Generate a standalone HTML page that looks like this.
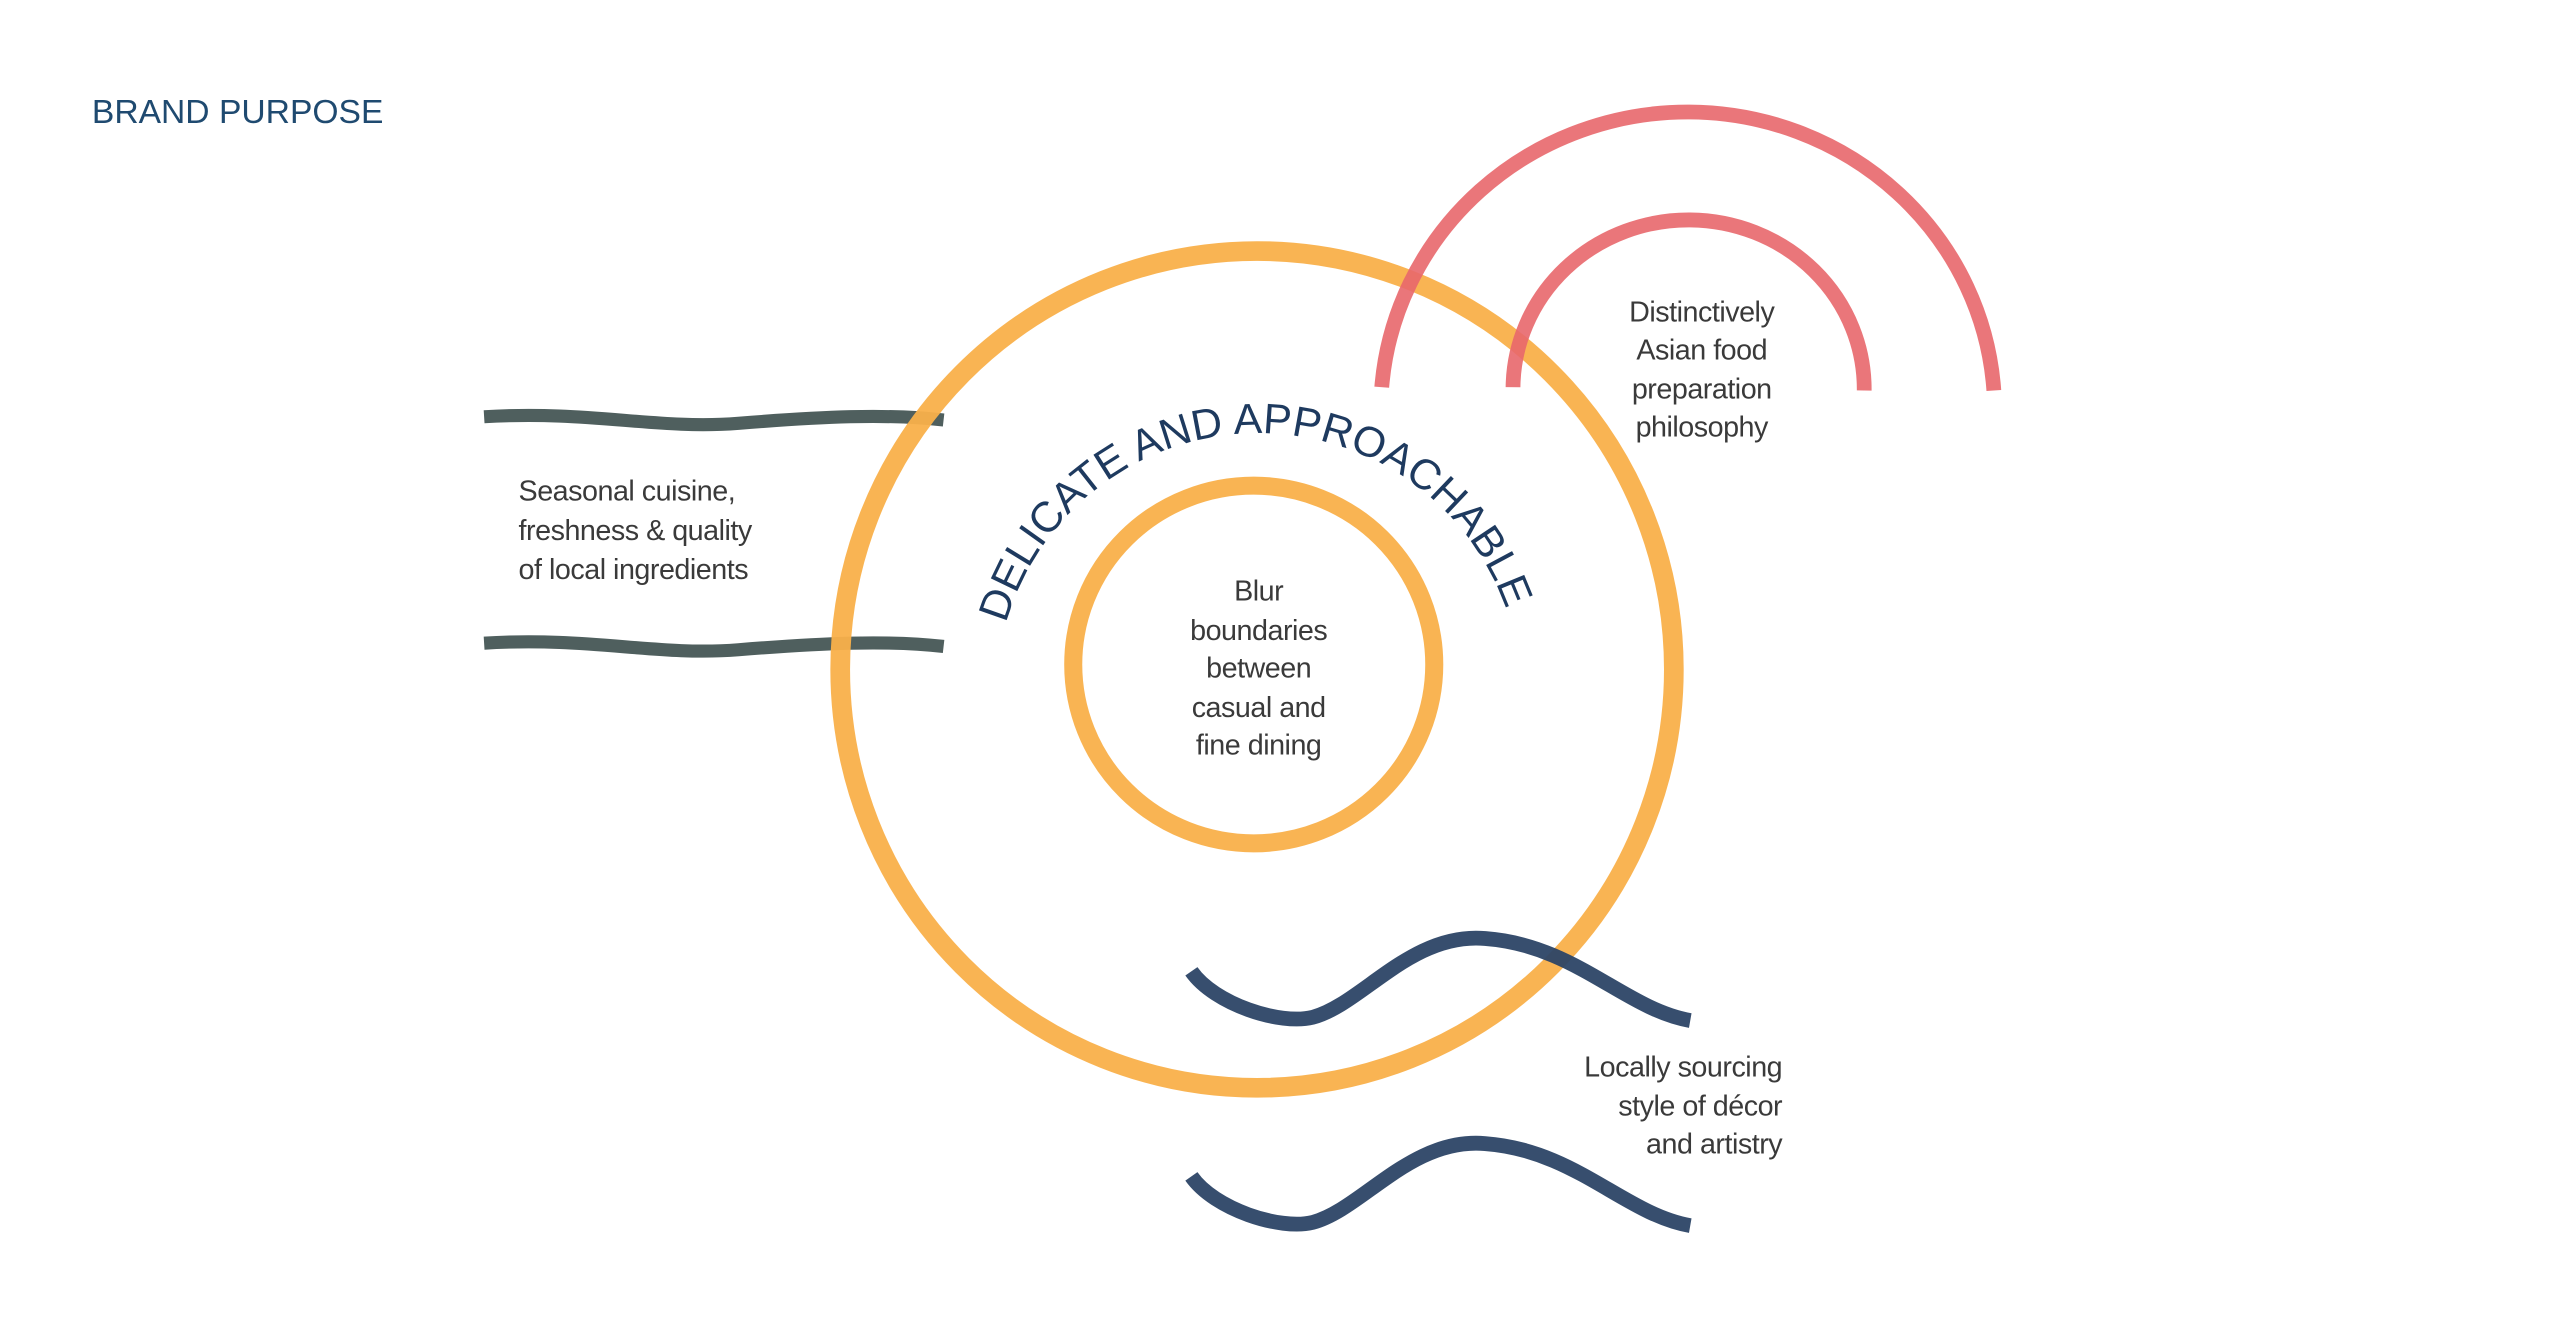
<!DOCTYPE html>
<html><head><meta charset="utf-8"><style>
html,body{margin:0;padding:0;background:#fff;}
svg{display:block;}
text{font-family:"Liberation Sans",sans-serif;}
</style></head><body>
<svg width="2560" height="1329" viewBox="0 0 1560 810" preserveAspectRatio="none" xmlns="http://www.w3.org/2000/svg">
<rect width="1560" height="810" fill="#fff"/>
<text x="56" y="75" font-size="20.5" fill="#1f4a70">BRAND PURPOSE</text>

<path d="M295 254 C360 250 400 262 450 258 C500 254 540 252 575 256" fill="none" stroke="#4f5f5e" stroke-width="8"/>
<path d="M295 392 C360 388 400 400 450 396 C500 392 540 390 575 394" fill="none" stroke="#4f5f5e" stroke-width="8"/>

<ellipse cx="766" cy="408" rx="254" ry="255" fill="none" stroke="#f9b04a" stroke-width="12" opacity="0.95"/>
<ellipse cx="764" cy="405" rx="110" ry="109" fill="none" stroke="#f9b04a" stroke-width="11" opacity="0.95"/>

<path d="M842 236 A187 182 0 0 1 1215 238" fill="none" stroke="#e8676b" stroke-width="9" opacity="0.9"/>
<path d="M922 236 A107 103 0 0 1 1136 238" fill="none" stroke="#e8676b" stroke-width="9" opacity="0.9"/>

<path d="M726 592 C740 612 780 625 800 620 C830 612 860 568 905 572 C960 576 990 615 1030 622" fill="none" stroke="#2c4466" stroke-width="9" opacity="0.95"/>
<path d="M726 717 C740 737 780 750 800 745 C830 737 860 693 905 697 C960 701 990 740 1030 747" fill="none" stroke="#2c4466" stroke-width="9" opacity="0.95"/>

<defs><path id="arc" d="M613 380 A160 160 0 0 1 925 400"/></defs>
<text font-size="26" fill="#1e3a5f" letter-spacing="0"><textPath href="#arc">DELICATE AND APPROACHABLE</textPath></text>

<g font-size="17.5" fill="#3a3a3a" letter-spacing="-0.3">
<text x="316" y="305">Seasonal cuisine,</text>
<text x="316" y="329">freshness &amp; quality</text>
<text x="316" y="353">of local ingredients</text>
</g>
<g font-size="17.5" fill="#3a3a3a" text-anchor="middle" letter-spacing="-0.3">
<text x="767" y="366">Blur</text>
<text x="767" y="390">boundaries</text>
<text x="767" y="413">between</text>
<text x="767" y="437">casual and</text>
<text x="767" y="460">fine dining</text>
<text x="1037" y="196">Distinctively</text>
<text x="1037" y="219">Asian food</text>
<text x="1037" y="243">preparation</text>
<text x="1037" y="266">philosophy</text>
</g>
<g font-size="17.5" fill="#3a3a3a" text-anchor="end" letter-spacing="-0.3">
<text x="1086" y="656">Locally sourcing</text>
<text x="1086" y="680">style of décor</text>
<text x="1086" y="703">and artistry</text>
</g>
</svg>
</body></html>
